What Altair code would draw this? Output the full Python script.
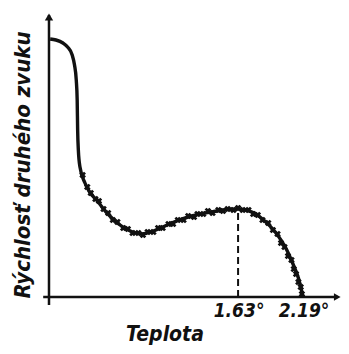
import altair as alt
import pandas as pd

# ---- data (arbitrary speed units) ----
curve_T = [0.01, 0.06, 0.12, 0.16, 0.20, 0.22, 0.235, 0.243, 0.247, 0.253, 0.267,
           0.31, 0.35, 0.41, 0.50, 0.60, 0.70, 0.80, 0.90, 1.00, 1.10, 1.20,
           1.30, 1.40, 1.50, 1.63, 1.75, 1.85, 1.95, 2.05, 2.10, 2.15, 2.19]
curve_v = [258, 257, 254, 250, 242, 232, 217, 197, 167, 147, 130,
           114, 105, 97, 84, 73, 66, 63, 66, 71, 76, 80,
           83, 85, 87, 88, 85, 77, 65, 47, 34, 19, 0]

cross_T = [0.29, 0.33, 0.36, 0.40, 0.43, 0.47, 0.51, 0.55, 0.59, 0.64, 0.68, 0.72,
           0.77, 0.81, 0.85, 0.90, 0.94, 0.98, 1.03, 1.07, 1.11, 1.16, 1.20, 1.25,
           1.28, 1.33, 1.37, 1.41, 1.46, 1.50, 1.54, 1.59, 1.63, 1.67, 1.72, 1.76,
           1.80, 1.84, 1.89, 1.93, 1.97, 2.00, 2.03, 2.06, 2.09, 2.11, 2.13, 2.15,
           2.17, 2.18]
cross_v = [122, 110, 104, 98, 96, 88, 84, 77, 75, 69, 68, 64,
           64, 62, 65, 65, 69, 69, 73, 73, 77, 77, 81, 80,
           83, 83, 86, 84, 87, 86, 88, 87, 89, 87, 87, 83,
           82, 77, 74, 67, 63, 54, 50, 41, 37, 28, 23, 15,
           10, 3]

peak_T = [1.63]
peak_v = [88]
tick_T = [1.63, 2.19]
tick_labels = ["1.63°", "2.19°"]
x_title = "Teplota"
y_title = "Rýchlosť druhého zvuku"

# ---- layout ----
W, H = 333, 338
xs = alt.Scale(domain=[-0.3534, 2.5172], nice=False, zero=False)
ys = alt.Scale(domain=[-49, 289], nice=False, zero=False)
INK = "#111111"
FONT = "DejaVu Sans Condensed, Liberation Sans Narrow, DejaVu Sans"


def X(field="T"):
    return alt.X(f"{field}:Q", scale=xs, axis=None)


def Y(field="v"):
    return alt.Y(f"{field}:Q", scale=ys, axis=None)


curve_df = pd.DataFrame({"T": curve_T, "v": curve_v, "o": range(len(curve_T))})
cross_df = pd.DataFrame({"T": cross_T, "v": cross_v})

# axes drawn as marks
yaxis = alt.Chart(pd.DataFrame({"T": [0], "v": [-8], "v2": [282]})).mark_rule(
    color=INK, strokeWidth=2.5).encode(x=X(), y=Y(), y2="v2:Q")
xaxis = alt.Chart(pd.DataFrame({"T": [-0.05], "T2": [2.48], "v": [0]})).mark_rule(
    color=INK, strokeWidth=2.5).encode(x=X(), x2="T2:Q", y=Y())
yarrow = alt.Chart(pd.DataFrame({"T": [0], "v": [280]})).mark_point(
    shape="triangle-up", filled=True, color=INK, size=70, opacity=1).encode(x=X(), y=Y())
xarrow = alt.Chart(pd.DataFrame({"T": [2.485], "v": [0]})).mark_point(
    shape="triangle-right", filled=True, color=INK, size=60, opacity=1).encode(x=X(), y=Y())

line = alt.Chart(curve_df).mark_line(
    color=INK, strokeWidth=3.4, interpolate="monotone").encode(x=X(), y=Y(), order="o:Q")
crosses = alt.Chart(cross_df).mark_point(
    shape="cross", angle=45, filled=True, color=INK, size=45, opacity=1).encode(x=X(), y=Y())

dash = alt.Chart(pd.DataFrame({"T": peak_T, "v": [0], "v2": peak_v})).mark_rule(
    color=INK, strokeWidth=2, strokeDash=[7, 4]).encode(x=X(), y=Y(), y2="v2:Q")

ticklabels = alt.Chart(pd.DataFrame({"T": tick_T, "lab": tick_labels, "v": [-14, -14]})).mark_text(
    font=FONT, fontSize=19, fontStyle="italic", fontWeight="bold", color=INK,
    align="center", baseline="middle", dx=1).encode(x=X(), y=Y(), text="lab:N")

xtitle = alt.Chart(pd.DataFrame({"T": [1.0], "v": [-38], "t": [x_title]})).mark_text(
    font=FONT, fontSize=21, fontStyle="italic", fontWeight="bold", color=INK,
    align="center", baseline="middle").encode(x=X(), y=Y(), text="t:N")

ytitle = alt.Chart(pd.DataFrame({"T": [-0.225], "v": [132], "t": [y_title]})).mark_text(
    font=FONT, fontSize=22, fontStyle="italic", fontWeight="bold", color=INK,
    align="center", baseline="middle", angle=270).encode(x=X(), y=Y(), text="t:N")

chart = alt.layer(yaxis, xaxis, yarrow, xarrow, dash, line, crosses,
                  ticklabels, xtitle, ytitle).properties(
    width=W, height=H, padding=0,
    autosize=alt.AutoSizeParams(type="none"),
    background="white"
).configure_view(stroke=None)

chart.save("out.html", embed_options={"renderer": "svg", "actions": False})
